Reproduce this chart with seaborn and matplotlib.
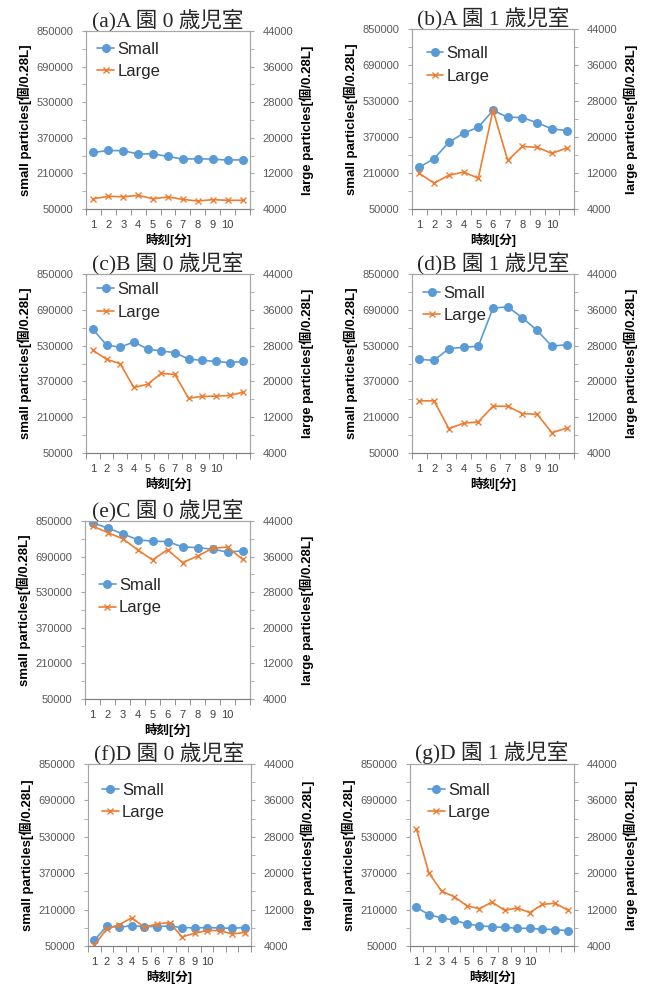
import numpy as np
import matplotlib
matplotlib.use('Agg')
import matplotlib.pyplot as plt
from matplotlib.ticker import FixedLocator
import seaborn as sns

# Estilo base de seaborn, luego ajustamos a mano para que parezca de Excel
sns.set_style('white')
plt.rcParams['font.family'] = ['Liberation Sans', 'Noto Sans CJK JP', 'DejaVu Sans']

azul = '#5B9BD5'
naranja = '#ED7D31'

# Títulos de cada panel
titulos = ['(a)A 園 0 歳児室', '(b)A 園 1 歳児室', '(c)B 園 0 歳児室', '(d)B 園 1 歳児室',
           '(e)C 園 0 歳児室', '(f)D 園 0 歳児室', '(g)D 園 1 歳児室']
etiquetas_x = ['1', '2', '3', '4', '5', '6', '7', '8', '9', '10']
series = ['Small', 'Large']

# Partículas pequeñas (eje izquierdo) y grandes (eje derecho) por panel
small_a = [304000, 313000, 312000, 297000, 298000, 286000, 274000, 276000, 274000, 270000, 271000]
large_a = [6300, 6850, 6750, 7050, 6300, 6700, 6150, 5800, 6100, 5950, 5950]
small_b = [236000, 273500, 346500, 386500, 413500, 488000, 458000, 456500, 433000, 406000, 398500]
large_b = [11900, 9750, 11500, 12200, 10850, 25950, 14800, 17900, 17700, 16350, 17550]
small_c = [603000, 533000, 522500, 546500, 515000, 506000, 498500, 470000, 464000, 459500, 453500, 459500]
large_c = [26950, 24950, 23950, 18650, 19350, 21800, 21550, 16250, 16650, 16700, 16850, 17600]
small_d = [468500, 464000, 516500, 522500, 527000, 697500, 703500, 654000, 597500, 527000, 534500]
large_d = [15650, 15650, 9450, 10650, 10950, 14450, 14450, 12800, 12650, 8550, 9550]
small_e = [842500, 818500, 793000, 766000, 759000, 757500, 733500, 730500, 723000, 711000, 715500]
large_e = [42900, 41400, 40050, 37550, 35250, 37550, 34650, 36100, 37850, 38150, 35400]
small_f = [75000, 137000, 132500, 139500, 135500, 135500, 138000, 131000, 129500, 131000, 129500, 128000, 131000]
large_f = [4150, 7750, 8700, 10200, 8100, 8850, 9150, 6000, 6800, 7400, 7400, 6650, 6950]
small_g = [220000, 188000, 173500, 163500, 147500, 138500, 134500, 131500, 128500, 127000, 124000, 122500, 117000]
large_g = [29800, 20050, 16050, 14850, 12850, 12200, 13650, 11850, 12350, 11350, 13150, 13400, 11900]

datos_small = [small_a, small_b, small_c, small_d, small_e, small_f, small_g]
datos_large = [large_a, large_b, large_c, large_d, large_e, large_f, large_g]

# Posición de cada panel en píxeles (izq, der, arriba, abajo) y ancla de la leyenda
W, H = 653, 986
marcos = [(86, 250, 31, 209), (412, 574, 29, 209), (86, 250, 274, 453), (412, 574, 274, 453),
          (85, 250, 521, 699), (88, 251, 764, 946), (410, 574, 764, 946)]
anclas = [(0.07, 0.835), (0.09, 0.80), (0.07, 0.85), (0.07, 0.83),
          (0.085, 0.575), (0.085, 0.795), (0.11, 0.795)]

fig = plt.figure(figsize=(W / 100, H / 100), dpi=100)

for titulo, small, large, (x0, x1, y0, y1), (lx, ly) in zip(titulos, datos_small, datos_large, marcos, anclas):
    ax = fig.add_axes([x0 / W, 1 - y1 / H, (x1 - x0) / W, (y1 - y0) / H])
    ax2 = ax.twinx()
    n = len(small)
    x = np.arange(1, n + 1)

    sns.lineplot(x=x, y=small, ax=ax, color=azul, marker='o', markersize=6.5,
                 markeredgewidth=0, linewidth=1.2, legend=False)
    # seaborn pone borde blanco a los marcadores, para la 'x' hay que darle color
    sns.lineplot(x=x, y=large, ax=ax2, color=naranja, marker='x', markersize=5,
                 markeredgewidth=1, markeredgecolor=naranja, linewidth=1.2, legend=False)

    ax.set_xlim(0.5, n + 0.5)
    ax.set_ylim(50000, 850000)
    ax2.set_ylim(4000, 44000)
    ax.set_yticks(np.arange(50000, 850001, 160000))
    ax.yaxis.set_minor_locator(FixedLocator(np.arange(130000, 850000, 160000)))
    ax2.set_yticks(np.arange(4000, 44001, 8000))
    ax2.yaxis.set_minor_locator(FixedLocator(np.arange(8000, 44000, 8000)))

    # Etiquetas 1..10 en las categorías, marcas entre categorías
    ax.set_xticks(np.arange(1, 11))
    ax.set_xticklabels(etiquetas_x)
    ax.xaxis.set_minor_locator(FixedLocator(np.arange(0.5, n + 1, 1)))
    ax.tick_params(axis='x', which='major', length=0, pad=8, labelsize=8, labelcolor='#404040')
    ax.tick_params(axis='x', which='minor', length=4, color='#808080', direction='out', bottom=True)
    for a in (ax, ax2):
        a.tick_params(axis='y', which='major', length=3, color='#A6A6A6', direction='out',
                      labelsize=8, labelcolor='#595959', pad=6)
        a.tick_params(axis='y', which='minor', length=3, color='#A6A6A6', direction='out')
        for s in a.spines.values():
            s.set_color('#A6A6A6')
            s.set_linewidth(0.8)
        a.spines['bottom'].set_color('#808080')
        a.grid(False)

    ax.set_ylabel('small particles[個/0.28L]', fontsize=9.5, fontweight='bold', color='black', labelpad=3)
    ax2.set_ylabel('large particles[個/0.28L]', fontsize=9.5, fontweight='bold', color='black', labelpad=4)
    ax.set_xlabel('時刻[分]', fontsize=9, fontweight='bold', color='black', labelpad=2)
    ax.set_title(titulo, fontsize=15.5, pad=1, family=['Liberation Serif', 'Noto Sans CJK JP'])

    ax2.legend([ax.lines[0], ax2.lines[0]], series, loc='center left', bbox_to_anchor=(lx, ly),
               frameon=False, borderpad=0, borderaxespad=0, handlelength=1.0,
               handletextpad=0.2, labelspacing=0.45, fontsize=12)

fig.savefig('out.png', dpi=100)
